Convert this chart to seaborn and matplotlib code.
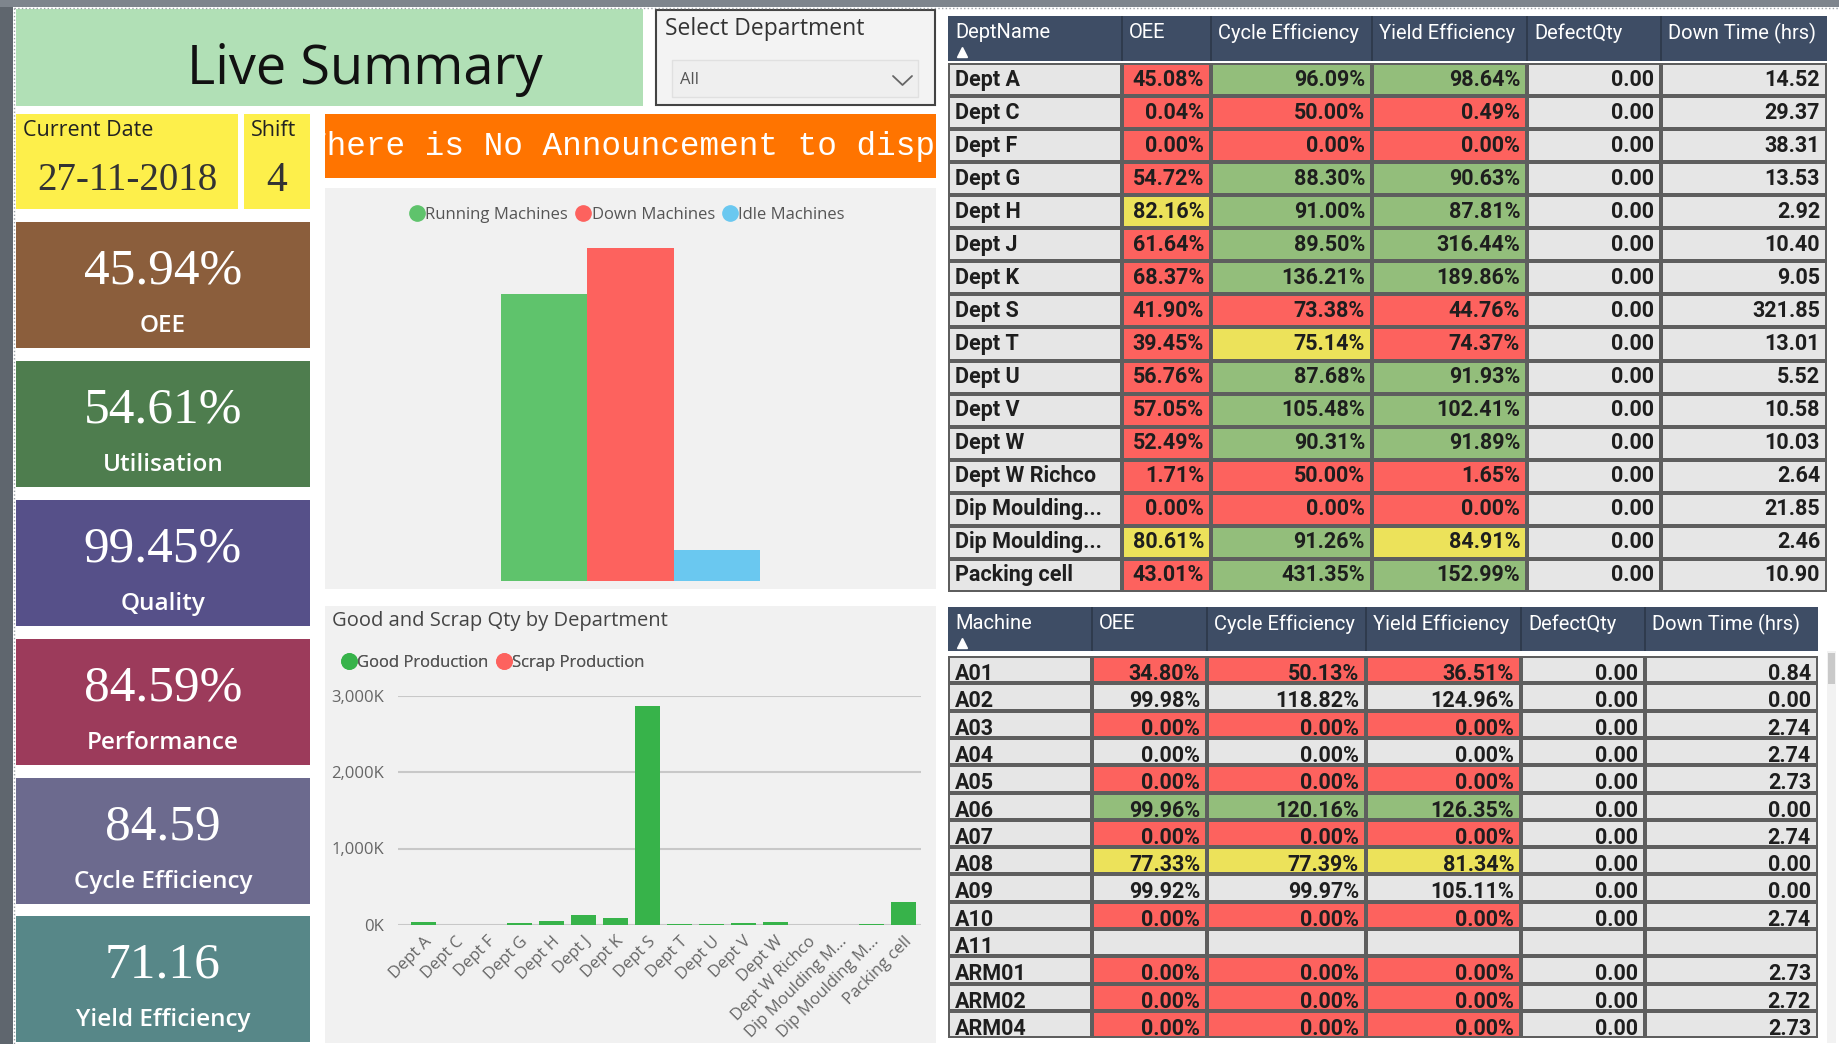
import numpy as np
import matplotlib
matplotlib.use("Agg")
import matplotlib.pyplot as plt
from matplotlib.colors import ListedColormap
from matplotlib.lines import Line2D
from matplotlib.patches import Rectangle
from matplotlib.ticker import FuncFormatter
import seaborn as sns

# ******************DATA******************
kpi_values = ['45.94%', '54.61%', '99.45%', '84.59%', '84.59', '71.16']
kpi_labels = ['OEE', 'Utilisation', 'Quality', 'Performance', 'Cycle Efficiency', 'Yield Efficiency']
current_date = '27-11-2018'
shift_no = '4'
# marquee text, only the visible part of the scrolling message
announcement = 'There is No Announcement to disp'

machine_status = ['Running Machines', 'Down Machines', 'Idle Machines']
machine_counts = [37, 43, 4]

prod_labels = ['Dept A', 'Dept C', 'Dept F', 'Dept G', 'Dept H', 'Dept J', 'Dept K', 'Dept S',
               'Dept T', 'Dept U', 'Dept V', 'Dept W', 'Dept W Richco', 'Dip Moulding M...',
               'Dip Moulding M...', 'Packing cell']
good_qty = [40, 0, 0, 22, 50, 128, 88, 2860, 8, 8, 30, 35, 0, 0, 15, 305]   # thousands
scrap_qty = [0] * 16                                                         # no visible scrap

dept_names = ['Dept A', 'Dept C', 'Dept F', 'Dept G', 'Dept H', 'Dept J', 'Dept K', 'Dept S',
              'Dept T', 'Dept U', 'Dept V', 'Dept W', 'Dept W Richco', 'Dip Moulding...',
              'Dip Moulding...', 'Packing cell']
dept_oee = [45.08, 0.04, 0.00, 54.72, 82.16, 61.64, 68.37, 41.90, 39.45, 56.76, 57.05, 52.49,
            1.71, 0.00, 80.61, 43.01]
dept_cycle = [96.09, 50.00, 0.00, 88.30, 91.00, 89.50, 136.21, 73.38, 75.14, 87.68, 105.48, 90.31,
              50.00, 0.00, 91.26, 431.35]
dept_yield = [98.64, 0.49, 0.00, 90.63, 87.81, 316.44, 189.86, 44.76, 74.37, 91.93, 102.41, 91.89,
              1.65, 0.00, 84.91, 152.99]
dept_defect = [0.00] * 16
dept_down = [14.52, 29.37, 38.31, 13.53, 2.92, 10.40, 9.05, 321.85, 13.01, 5.52, 10.58, 10.03,
             2.64, 21.85, 2.46, 10.90]
# status of OEE / Cycle / Yield cells: R red, G green, Y yellow, - none
dept_status = ['RGG', 'RRR', 'RRR', 'RGG', 'YGG', 'RGG', 'RGG', 'RRR', 'RYR', 'RGG', 'RGG', 'RGG',
               'RRR', 'RRR', 'YGY', 'RGG']

machine_names = ['A01', 'A02', 'A03', 'A04', 'A05', 'A06', 'A07', 'A08', 'A09', 'A10', 'A11',
                 'ARM01', 'ARM02', 'ARM04']
machine_oee = [34.80, 99.98, 0.00, 0.00, 0.00, 99.96, 0.00, 77.33, 99.92, 0.00, None, 0.00, 0.00, 0.00]
machine_cycle = [50.13, 118.82, 0.00, 0.00, 0.00, 120.16, 0.00, 77.39, 99.97, 0.00, None, 0.00, 0.00, 0.00]
machine_yield = [36.51, 124.96, 0.00, 0.00, 0.00, 126.35, 0.00, 81.34, 105.11, 0.00, None, 0.00, 0.00, 0.00]
machine_defect = [0.00] * 10 + [None] + [0.00] * 3
machine_down = [0.84, 0.00, 2.74, 2.74, 2.73, 0.00, 2.74, 0.00, 0.00, 2.74, None, 2.73, 2.72, 2.73]
machine_status_cells = ['RRR', '---', 'RRR', '---', 'RRR', 'GGG', 'RRR', 'YYY', '---', 'RRR', '---',
                        'RRR', 'RRR', 'RRR']

table_headers = ['OEE', 'Cycle Efficiency', 'Yield Efficiency', 'DefectQty', 'Down Time (hrs)']

# ******************STYLE******************
sns.set_style("white")
plt.rcParams['font.family'] = ['Open Sans', 'DejaVu Sans']
W, H = 1839, 1044
TABLE_FONT = ['Roboto', 'DejaVu Sans']
SERIF = ['Liberation Serif', 'DejaVu Serif']
HEADER_BG = '#3E4D65'
cell_cmap = ListedColormap(['#E6E6E6', '#FD625E', '#93BE7B', '#ECE25A'])
code_map = {'-': 0, 'R': 1, 'G': 2, 'Y': 3}


def px_box(x0, y0, x1, y1):
    return [x0 / W, 1 - y1 / H, (x1 - x0) / W, (y1 - y0) / H]


def pct(v):
    return '' if v is None else f'{v:.2f}%'


def num(v):
    return '' if v is None else f'{v:.2f}'


fig = plt.figure(figsize=(W / 100, H / 100), dpi=100)
fig.patch.set_facecolor('white')

# background axes in pixel coordinates
bg = fig.add_axes([0, 0, 1, 1])
bg.set_xlim(0, W)
bg.set_ylim(H, 0)
bg.axis('off')


def box(x0, y0, x1, y1, color, **kw):
    bg.add_patch(Rectangle((x0, y0), x1 - x0, y1 - y0, facecolor=color, **kw))


# window frame
box(0, 0, 13, H, '#5F666E', lw=0)
box(0, 0, W, 7, '#7E858D', lw=0)
bg.plot([14, 14], [8, H], color='#9AA0A6', lw=1, ls=':')
bg.plot([14, W], [8, 8], color='#9AA0A6', lw=1, ls=':')

# title + slicer
box(16, 9, 643, 106, '#B1E0B6', lw=0)
bg.text(365, 84, 'Live Summary', ha='center', va='baseline', fontsize=39, color='#111111')
box(656, 10, 935, 105, '#F3F3F3', edgecolor='#444444', lw=1.5)
bg.text(665, 29, 'Select Department', ha='left', va='center', fontsize=16.5, color='#333333')
box(672, 60, 918, 97, '#EFEFEF', edgecolor='#E0E0E0', lw=1)
bg.text(680, 80, 'All', ha='left', va='center', fontsize=12, color='#555555')
bg.plot([893, 902.5, 912], [76, 85, 76], color='#666666', lw=1.3)

# date + shift
box(16, 114, 238, 209, '#FDEF4B', lw=0)
bg.text(23, 131, 'Current Date', ha='left', va='center', fontsize=15.5, color='#222222')
bg.text(127, 181, current_date, ha='center', va='center', fontsize=28, color='#333333', family=SERIF)
box(244, 114, 310, 209, '#FDEF4B', lw=0)
bg.text(251, 131, 'Shift', ha='left', va='center', fontsize=15.5, color='#222222')
bg.text(277, 181, shift_no, ha='center', va='center', fontsize=30, color='#333333', family=SERIF)

# KPI tiles
kpi_colors = ['#8B5E3C', '#4E7D4E', '#565089', '#9C3B5B', '#6C6A8E', '#578788']
kpi_tops = [222, 361, 500, 639, 778, 916]
for top, val, lab, col in zip(kpi_tops, kpi_values, kpi_labels, kpi_colors):
    box(16, top, 310, min(top + 126, H), col, lw=0)
    bg.text(163, top + 49, val, ha='center', va='center', fontsize=37, color='white', family=SERIF)
    bg.text(163, top + 104, lab, ha='center', va='center', fontsize=17.5, color='white',
            fontweight='semibold')

# chart panels
box(325, 188, 936, 589, '#F1F1F1', lw=0)
box(325, 606, 936, 1043, '#F1F1F1', lw=0)

# announcement banner (clipped text)
ann = fig.add_axes(px_box(325, 114, 936, 178))
ann.set_facecolor('#FF7400')
ann.set_xlim(325, 936)
ann.set_ylim(178, 114)
ann.set_xticks([])
ann.set_yticks([])
for s in ann.spines.values():
    s.set_visible(False)
ann.text(307, 147, announcement, ha='left', va='center', fontsize=23.5, color='white',
         family=['Liberation Mono', 'DejaVu Sans Mono'], clip_on=True)

# ******************MACHINE STATUS BARS******************
run_colors = ['#5FC36C', '#FD625E', '#6AC8F0']
ax_run = fig.add_axes(px_box(501, 247.5, 760, 580.5))
sns.barplot(x=machine_status, y=machine_counts, hue=machine_status, palette=run_colors,
            width=1.0, saturation=1, errorbar=None, legend=False, linewidth=0, ax=ax_run)
ax_run.set_xlim(-0.5, 2.5)
ax_run.set_ylim(0, max(machine_counts))
ax_run.axis('off')
run_handles = [Line2D([], [], ls='', marker='o', markersize=11, markerfacecolor=c, markeredgecolor=c)
               for c in run_colors]
leg1 = bg.legend(run_handles, machine_status, loc='center', bbox_to_anchor=(628, 215),
                 bbox_transform=bg.transData, ncol=3, frameon=False, fontsize=12,
                 handlelength=0.7, handletextpad=0.15, columnspacing=0.55, labelcolor='#555555')
bg.add_artist(leg1)

# ******************GOOD AND SCRAP BARS******************
bg.text(332, 621, 'Good and Scrap Qty by Department', ha='left', va='center', fontsize=14.5,
        color='#444444')
prod_colors = ['#37B34A', '#FD625E']
idx = np.arange(len(prod_labels))
total_qty = np.array(good_qty) + np.array(scrap_qty)
ax_prod = fig.add_axes(px_box(398, 695.5, 921, 925))
sns.barplot(x=idx, y=total_qty, color=prod_colors[1], saturation=1, width=0.8, errorbar=None,
            linewidth=0, ax=ax_prod)
sns.barplot(x=idx, y=good_qty, color=prod_colors[0], saturation=1, width=0.8, errorbar=None,
            linewidth=0, ax=ax_prod)
ax_prod.set_facecolor('none')
ax_prod.set_xlim(-0.80, 15.55)
ax_prod.set_ylim(0, 3000)
ax_prod.set_yticks([0, 1000, 2000, 3000])
ax_prod.yaxis.set_major_formatter(FuncFormatter(lambda v, p: f'{v:,.0f}K'))
ax_prod.set_xticks(idx)
ax_prod.set_xticklabels(prod_labels, rotation=45, ha='right', rotation_mode='anchor')
ax_prod.tick_params(axis='both', length=0, labelsize=12, labelcolor='#666666')
ax_prod.tick_params(axis='y', pad=10)
ax_prod.tick_params(axis='x', pad=6)
ax_prod.yaxis.grid(True, color='#C8C8C8', lw=1.5)
ax_prod.set_axisbelow(True)
ax_prod.set_xlabel('')
ax_prod.set_ylabel('')
sns.despine(ax=ax_prod, left=True, bottom=True)
prod_handles = [Line2D([], [], ls='', marker='o', markersize=11, markerfacecolor=c, markeredgecolor=c)
                for c in prod_colors]
leg2 = bg.legend(prod_handles, ['Good Production', 'Scrap Production'], loc='center left',
                 bbox_to_anchor=(328, 663), bbox_transform=bg.transData, ncol=2, frameon=False,
                 fontsize=12, handlelength=0.7, handletextpad=0.15, columnspacing=0.55,
                 labelcolor='#555555')
bg.add_artist(leg2)


# ******************TABLES******************
def draw_table(edges, top, header_h, body_top, row_h, headers, columns, status, text_dy):
    n = len(columns[0])
    hx = fig.add_axes(px_box(edges[0], top, edges[-1], top + header_h))
    hx.set_facecolor(HEADER_BG)
    hx.set_xlim(edges[0], edges[-1])
    hx.set_ylim(top + header_h, top)
    hx.set_xticks([])
    hx.set_yticks([])
    for s in hx.spines.values():
        s.set_visible(False)
    for e in edges[1:-1]:
        hx.axvline(e, color='#2C3849', lw=1.2)
    for j, h in enumerate(headers):
        hx.text(edges[j] + 7, top + 17, h, ha='left', va='center', color='white', fontsize=14.5,
                family=TABLE_FONT)
    hx.plot(edges[0] + 14, top + 36, marker='^', color='white', markersize=7)

    for j in range(len(columns)):
        codes = np.array([[code_map[st[j - 1]] if 1 <= j <= 3 else 0] for st in status])
        ax = fig.add_axes(px_box(edges[j], body_top, edges[j + 1], body_top + n * row_h))
        sns.heatmap(codes, ax=ax, cmap=cell_cmap, vmin=-0.5, vmax=3.5, cbar=False,
                    linewidths=1.6, linecolor='#5E5E5E', xticklabels=False, yticklabels=False)
        w = edges[j + 1] - edges[j]
        for i, s in enumerate(columns[j]):
            if j == 0:
                ax.text(7 / w, i + 0.5 + text_dy, s, ha='left', va='center', fontsize=15.5,
                        color='#1E1E1E', family=TABLE_FONT, fontweight='bold')
            else:
                ax.text(1 - 7 / w, i + 0.5 + text_dy, s, ha='right', va='center', fontsize=15.5,
                        color='#1E1E1E', family=TABLE_FONT, fontweight='bold')


dept_columns = [dept_names, [pct(v) for v in dept_oee], [pct(v) for v in dept_cycle],
                [pct(v) for v in dept_yield], [num(v) for v in dept_defect], [num(v) for v in dept_down]]
draw_table([948, 1122, 1211, 1372, 1527, 1661, 1827], 16, 45, 63, 33.06,
           ['DeptName'] + table_headers, dept_columns, dept_status, 0.0)

machine_columns = [machine_names, [pct(v) for v in machine_oee], [pct(v) for v in machine_cycle],
                   [pct(v) for v in machine_yield], [num(v) for v in machine_defect],
                   [num(v) for v in machine_down]]
draw_table([948, 1092, 1207, 1366, 1521, 1645, 1818], 607, 44, 656, 27.3,
           ['Machine'] + table_headers, machine_columns, machine_status_cells, 0.16)

# scrollbar of machine table
box(1827, 651, 1836, 1043, '#F2F2F2', lw=0)
box(1828, 653, 1835, 684, '#C9C9C9', lw=0)

fig.savefig('out.png', dpi=100)
